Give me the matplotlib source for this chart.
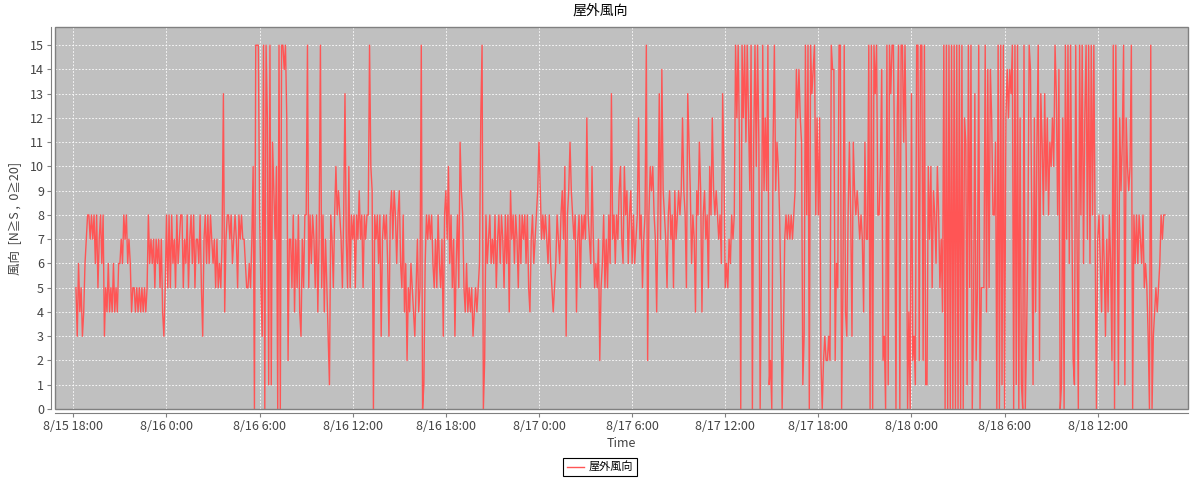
import matplotlib
matplotlib.use('Agg')
import matplotlib.pyplot as plt
import matplotlib.dates as mdates
from matplotlib.patches import Rectangle
from matplotlib.ticker import MultipleLocator, FuncFormatter
import pandas as pd

plt.rcParams['font.family'] = ['Noto Sans CJK JP', 'DejaVu Sans']

# wind direction (0..15), one hex digit per 5-minute sample,
# one string per hour; series starts 8/15 18:10
wind_0815 = [
    "5364534678",
    "878786857868", "354645464546", "676878676455", "454545454586",
    "767576757435",
]
wind_0816 = [
    "858586758678", "857685786857", "768537868687", "67575657D478",
    "878678758787", "7655657A0FFF", "853F0FC1F1B9", "7A0F0FFEFC27",
    "758475843758", "8F586875847F", "58475318758A", "898758D75A58",
    "785879785878", "8FA908786837", "878638979868", "965846254654",
    "35745F016878", "786575865738", "97A68573685B", "985464545345",
    "456CF0286786", "768578687586", "849786875868", "786854786789",
]
wind_0817 = [
    "B97878768654", "56876897A389", "B98784785878", "7C876A756572",
    "56857586D786", "879A76A89689", "68678C78578F", "28A9A8748D7E",
    "987589785978", "989C985DB968", "7498B9489785", "A8C9898786DA",
    "56576878FCFB", "0FCFBFC9F0BF", "AFB06F9C9F12", "0BF9BA850378",
    "7878789ECECB", "13F8F0FDEF8C", "8C20232232FE", "E265FF05F438",
    "B83B98987874", "B77F0F0FDF88", "AE230F1FDFFA", "0CF0FFBFA040",
]
wind_0818 = [
    "D231FF2FF2F1", "1A7A5986A857", "4F0F0F0F0F0F", "0F0F0CB1F5F0",
    "4D25F0555F4E", "5EC88B0F0F1F", "0CECEDF0F1F0", "C10F037FE81C",
    "4BF2DB8D9C8B", "ACAFD8E01C0F", "7F6F821F70F8", "F6CF7F6F8F70",
    "786486374862", "F0F91C9BF1CA", "9AF086868768", "56530F034545",
    "68788",
]

title = '屋外風向'
series_name = '屋外風向'
y_label = '風向  [N≧S ,  0≧20]'
x_label = 'Time'

hex_str = ''.join(wind_0815 + wind_0816 + wind_0817 + wind_0818)
values = [int(c, 16) for c in hex_str]
times = pd.date_range('2013-08-15 18:10', periods=len(values), freq='5min')

fig = plt.figure(figsize=(12, 4.8), dpi=100)
ax = fig.add_axes([55 / 1200, 1 - 409 / 480, 1133 / 1200, 382 / 480])
ax.set_facecolor('#c0c0c0')

ax.plot(times, values, color='#ff5555', lw=1.0, label=series_name)

ax.set_xlim(pd.Timestamp('2013-08-15 16:49'), pd.Timestamp('2013-08-18 17:49'))
ax.set_ylim(0, 15.75)
ax.yaxis.set_major_locator(MultipleLocator(1))
ax.xaxis.set_major_locator(mdates.HourLocator(byhour=[0, 6, 12, 18]))


def fmt_date(x, pos):
    d = mdates.num2date(x)
    return f'{d.month}/{d.day} {d.hour}:{d.minute:02d}'


ax.xaxis.set_major_formatter(FuncFormatter(fmt_date))

ax.grid(True, color='white', ls=(0, (2, 2)), lw=0.6)
ax.set_axisbelow(True)
ax.tick_params(direction='out', length=3, width=0.8, color='#808080',
               labelsize=9, labelcolor='#444444', pad=2)

for s in ['top', 'right']:
    ax.spines[s].set_visible(False)
for s in ['left', 'bottom']:
    ax.spines[s].set_color('#808080')
    ax.spines[s].set_position(('outward', 3))
ax.add_patch(Rectangle((0, 0), 1, 1, transform=ax.transAxes, fill=False,
                       edgecolor='#808080', lw=1, clip_on=False, zorder=5))

ax.set_xlabel(x_label, fontsize=9, color='#444444', labelpad=3)
ax.set_ylabel(y_label, fontsize=9, color='#444444', labelpad=6)
fig.text(0.5, 1 - 11 / 480, title, ha='center', va='center', fontsize=10)

leg = fig.legend(loc='center', bbox_to_anchor=(0.5, 1 - 467 / 480), fontsize=8,
                 fancybox=False, edgecolor='black', framealpha=1,
                 handlelength=1.6, borderpad=0.35, handletextpad=0.4)
leg.get_frame().set_linewidth(0.8)

fig.savefig('out.png', dpi=100)
